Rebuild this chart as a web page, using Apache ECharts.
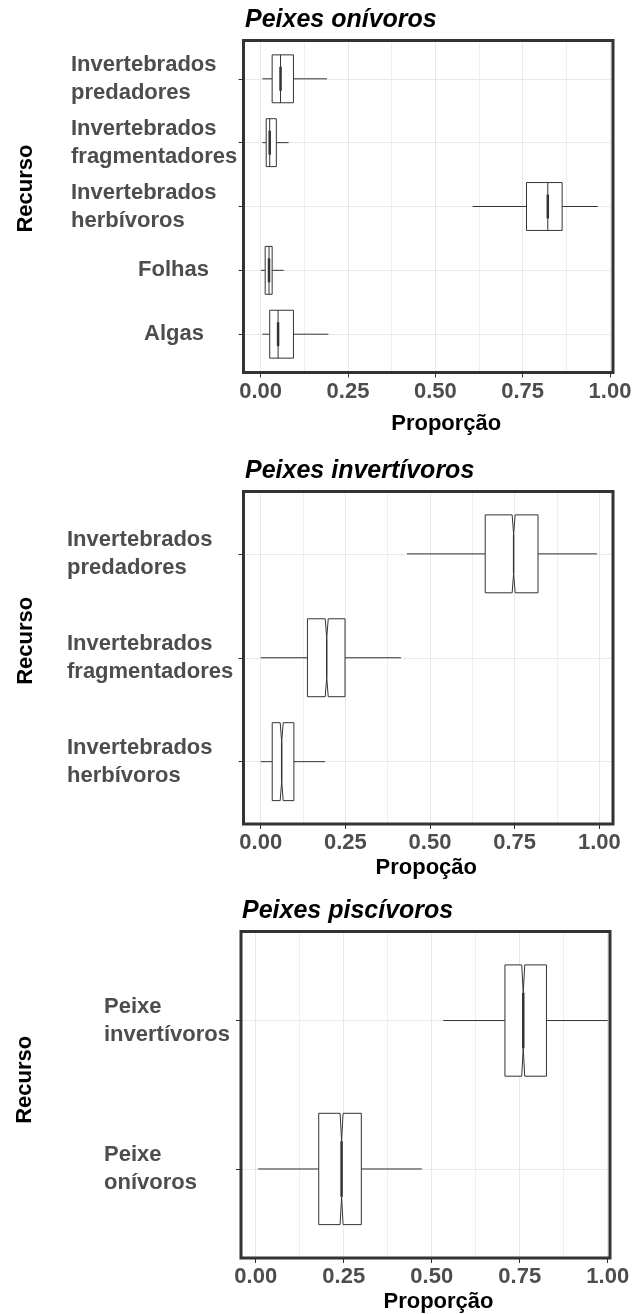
<!DOCTYPE html>
<html>
<head>
<meta charset="utf-8">
<script src="https://cdn.jsdelivr.net/npm/echarts@6/dist/echarts.min.js"></script>
<style>
  html, body { margin: 0; padding: 0; background: #fff; }
  #chart { width: 644px; height: 1314px; }
</style>
</head>
<body>
<div id="chart"></div>
<script>
// Peixes onívoros (top to bottom)
const cats1 = ['Invertebrados\npredadores', 'Invertebrados\nfragmentadores', 'Invertebrados\nherbívoros', 'Folhas', 'Algas'];
const lower1 = [0.005, 0.005, 0.607, 0.001, 0.005];
const q1s1 = [0.033, 0.016, 0.761, 0.013, 0.026];
const med1 = [0.057, 0.026, 0.822, 0.024, 0.050];
const q3s1 = [0.094, 0.045, 0.863, 0.033, 0.094];
const upper1 = [0.190, 0.080, 0.965, 0.066, 0.194];

// Peixes invertívoros
const cats2 = ['Invertebrados\npredadores', 'Invertebrados\nfragmentadores', 'Invertebrados\nherbívoros'];
const lower2 = [0.432, 0.000, 0.000];
const q1s2 = [0.663, 0.138, 0.034];
const med2 = [0.747, 0.195, 0.062];
const q3s2 = [0.819, 0.249, 0.098];
const upper2 = [0.993, 0.414, 0.190];

// Peixes piscívoros
const cats3 = ['Peixe\ninvertívoros', 'Peixe\nonívoros'];
const lower3 = [0.533, 0.007];
const q1s3 = [0.708, 0.179];
const med3 = [0.760, 0.244];
const q3s3 = [0.826, 0.300];
const upper3 = [1.000, 0.472];

const xTicks = [0, 0.25, 0.5, 0.75, 1];
const xMinor = [0.125, 0.375, 0.625, 0.875];

const FONT = '"Liberation Sans", Arial, sans-serif';
const GRAY = '#4d4d4d';
const INK = '#333';

// label indent for the one-line labels (px)
const shortIndent = { 'Folhas': 67, 'Algas': 73 };

const panels = [
  {
    title: 'Peixes onívoros', xName: 'Proporção',
    cats: cats1, lo: lower1, q1: q1s1, md: med1, q3: q3s1, hi: upper1,
    grid: { left: 243.5, top: 40.5, width: 369.5, height: 332 },
    xMin: -0.049, xMax: 1.0086, titlePos: { left: 245, top: 8 },
    labelStart: 71, xNameGap: 40, xNamePad: [0, 0, 0, 36], yNameGap: 207, yNamePad: [0, 0, 0, 36],
    notch: 0, medWidth: 2.5
  },
  {
    title: 'Peixes invertívoros', xName: 'Propoção',
    cats: cats2, lo: lower2, q1: q1s2, md: med2, q3: q3s2, hi: upper2,
    grid: { left: 243.5, top: 491.5, width: 369.5, height: 332.5 },
    xMin: -0.0508, xMax: 1.0404, titlePos: { left: 245, top: 459 },
    labelStart: 67, xNameGap: 33, xNamePad: [0, 4, 0, 0], yNameGap: 207, yNamePad: [0, 0, 0, 34],
    notch: 1.5, medWidth: 1.5
  },
  {
    title: 'Peixes piscívoros', xName: 'Proporção',
    cats: cats3, lo: lower3, q1: q1s3, md: med3, q3: q3s3, hi: upper3,
    grid: { left: 241, top: 931.5, width: 369, height: 328 },
    xMin: -0.0418, xMax: 1.0065, titlePos: { left: 242, top: 899 },
    labelStart: 104, xNameGap: 33, xNamePad: [0, 0, 0, 26], yNameGap: 205, yNamePad: [0, 0, 0, 30],
    notch: 1.5, medWidth: 2.5
  }
];

function boxItem(notch, medWidth) {
  return function (params, api) {
    const y = api.value(0);
    const lo = api.coord([api.value(1), y]);
    const q1 = api.coord([api.value(2), y]);
    const md = api.coord([api.value(3), y]);
    const q3 = api.coord([api.value(4), y]);
    const hi = api.coord([api.value(5), y]);
    const h = Math.abs(api.size([0, 0.75])[1]);
    const cy = md[1], top = cy - h / 2, bot = cy + h / 2;
    const line = { stroke: INK, lineWidth: 1 };
    const kids = [
      { type: 'line', shape: { x1: lo[0], y1: cy, x2: q1[0], y2: cy }, style: line },
      { type: 'line', shape: { x1: q3[0], y1: cy, x2: hi[0], y2: cy }, style: line }
    ];
    if (notch) {
      const m = md[0], n = notch;
      kids.push({
        type: 'polygon',
        shape: { points: [[q1[0], top], [m - n, top], [m, top + h / 4], [m + n, top], [q3[0], top],
                          [q3[0], bot], [m + n, bot], [m, bot - h / 4], [m - n, bot], [q1[0], bot]] },
        style: { fill: '#fff', stroke: INK, lineWidth: 1 }
      });
    } else {
      kids.push({ type: 'rect', shape: { x: q1[0], y: top, width: q3[0] - q1[0], height: h },
                  style: { fill: '#fff', stroke: INK, lineWidth: 1 } });
      kids.push({ type: 'line', shape: { x1: md[0], y1: top, x2: md[0], y2: bot }, style: line });
    }
    kids.push({ type: 'line', shape: { x1: md[0], y1: top + h / 4, x2: md[0], y2: bot - h / 4 },
                style: { stroke: INK, lineWidth: medWidth } });
    return { type: 'group', children: kids };
  };
}

const option = { animation: false, title: [], grid: [], xAxis: [], yAxis: [], series: [] };

panels.forEach(function (p, i) {
  option.title.push({
    text: p.title, left: p.titlePos.left, top: p.titlePos.top, padding: 0,
    textStyle: { fontFamily: FONT, fontSize: 25, fontWeight: 'bold', fontStyle: 'italic', color: '#000' }
  });
  option.grid.push(Object.assign({ show: true, borderColor: INK, borderWidth: 3, z: 10,
                                   backgroundColor: 'transparent' }, p.grid));

  const rich = {};
  Object.keys(shortIndent).forEach(function (k, j) {
    rich['s' + j] = { fontFamily: FONT, fontSize: 22, fontWeight: 'bold', color: GRAY,
                      padding: [0, 0, 0, shortIndent[k]] };
  });

  // major axis: labels, ticks, major grid
  option.xAxis.push({
    type: 'value', gridIndex: i, min: p.xMin, max: p.xMax, position: 'bottom',
    name: p.xName, nameLocation: 'middle', nameGap: p.xNameGap,
    nameTextStyle: { fontFamily: FONT, fontSize: 22, fontWeight: 'bold', color: '#000', padding: p.xNamePad },
    axisLine: { show: false, onZero: false },
    axisTick: { show: true, length: 5, customValues: xTicks, lineStyle: { color: INK, width: 1 } },
    axisLabel: { customValues: xTicks, margin: 8, fontFamily: FONT, fontSize: 22, fontWeight: 'bold',
                 color: GRAY, formatter: function (v) { return v.toFixed(2); } },
    splitLine: { show: true, lineStyle: { color: '#e8e8e8', width: 1 } }
  });
  // minor grid lines
  option.xAxis.push({
    type: 'value', gridIndex: i, min: p.xMin, max: p.xMax, position: 'top',
    axisLine: { show: false, onZero: false },
    axisTick: { show: false, customValues: xMinor },
    axisLabel: { show: false },
    splitLine: { show: true, lineStyle: { color: '#eeeeee', width: 1 } }
  });

  const idx = p.cats.map(function (_, k) { return k; });
  option.yAxis.push({
    type: 'value', gridIndex: i, min: -0.6, max: p.cats.length - 0.4, inverse: true, position: 'left',
    name: 'Recurso', nameLocation: 'middle', nameRotate: 90, nameGap: p.yNameGap,
    nameTextStyle: { fontFamily: FONT, fontSize: 22, fontWeight: 'bold', color: '#000', padding: p.yNamePad },
    axisLine: { show: false, onZero: false },
    axisTick: { show: true, length: 5, customValues: idx, lineStyle: { color: INK, width: 1 } },
    axisLabel: {
      customValues: idx, align: 'left', margin: p.grid.left - p.labelStart,
      fontFamily: FONT, fontSize: 22, fontWeight: 'bold', color: GRAY, lineHeight: 28, rich: rich,
      formatter: function (v) {
        const name = p.cats[Math.round(v)];
        const keys = Object.keys(shortIndent);
        const j = keys.indexOf(name);
        return j >= 0 ? '{s' + j + '|' + name + '}' : name;
      }
    },
    splitLine: { show: true, lineStyle: { color: '#e8e8e8', width: 1 } }
  });

  option.series.push({
    type: 'custom', xAxisIndex: 2 * i, yAxisIndex: i, z: 5,
    renderItem: boxItem(p.notch, p.medWidth),
    encode: { x: [1, 2, 3, 4, 5], y: 0 },
    data: p.cats.map(function (_, k) { return [k, p.lo[k], p.q1[k], p.md[k], p.q3[k], p.hi[k]]; })
  });
});

const chart = echarts.init(document.getElementById('chart'), null, { renderer: 'canvas' });
chart.setOption(option);
</script>
</body>
</html>
